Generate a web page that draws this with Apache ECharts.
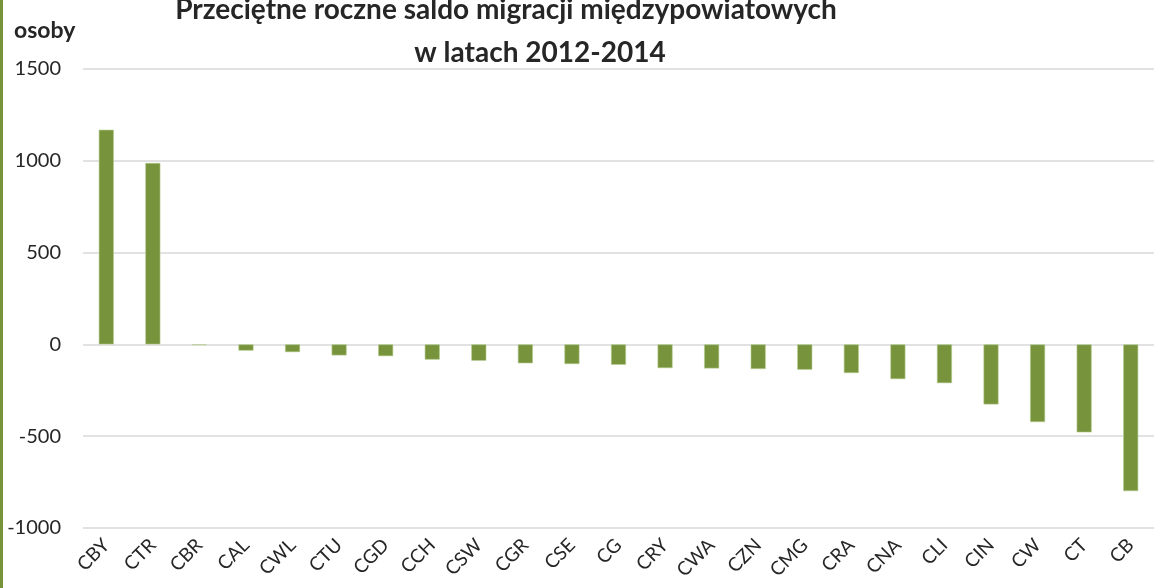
<!DOCTYPE html>
<html>
<head>
<meta charset="utf-8">
<script src="https://cdn.jsdelivr.net/npm/echarts@6/dist/echarts.min.js"></script>
<style>
  html, body { margin: 0; padding: 0; background: #fff; }
  #chart { width: 1154px; height: 588px; }
</style>
</head>
<body>
<div id="chart"></div>
<script>
// Powiaty (kody) i średnie roczne saldo migracji międzypowiatowych 2012-2014
const categories = ['CBY','CTR','CBR','CAL','CWL','CTU','CGD','CCH','CSW','CGR','CSE','CG',
                    'CRY','CWA','CZN','CMG','CRA','CNA','CLI','CIN','CW','CT','CB'];
const saldo = [1169, 988, -3, -34, -42, -60, -64, -83, -89, -103, -107, -111,
               -129, -131, -134, -138, -156, -189, -211, -327, -423, -479, -799];
const yTicks = { min: -1000, max: 1500, step: 500 };
const titleLines = ['Przeciętne roczne saldo migracji międzypowiatowych', 'w latach 2012-2014'];
const unitLabel = 'osoby';

const FONT = 'Lato, "Open Sans", sans-serif';
const GREEN = '#77933C';

const chart = echarts.init(document.getElementById('chart'), null, { renderer: 'canvas' });
chart.setOption({
  backgroundColor: '#ffffff',
  animation: false,
  title: [
    { text: titleLines[0], left: 501, top: -9, textAlign: 'center',
      textStyle: { fontFamily: FONT, fontWeight: 'bold', fontSize: 28, color: '#262626' } },
    { text: titleLines[1], left: 535, top: 34, textAlign: 'center',
      textStyle: { fontFamily: FONT, fontWeight: 'bold', fontSize: 28, color: '#262626' } },
    { text: unitLabel, left: 9, top: 14,
      textStyle: { fontFamily: FONT, fontWeight: 'bold', fontSize: 23, color: '#262626' } }
  ],
  graphic: [
    { type: 'rect', left: 0, top: 0, shape: { width: 3, height: 588 },
      style: { fill: GREEN } }
  ],
  grid: { left: 83, top: 69, width: 1081, bottom: 60, containLabel: false },
  xAxis: {
    type: 'category',
    data: categories,
    axisLine: { show: false },
    axisTick: { show: false },
    axisLabel: {
      rotate: 45, interval: 0, margin: 14,
      fontFamily: FONT, fontSize: 19, color: '#262626'
    }
  },
  yAxis: {
    type: 'value',
    min: yTicks.min, max: yTicks.max, interval: yTicks.step,
    axisLine: { show: false },
    axisTick: { show: false },
    axisLabel: {
      margin: 22, fontFamily: FONT, fontSize: 20, color: '#262626',
      formatter: (v) => String(v)
    },
    splitLine: { lineStyle: { color: '#d9d9d9', width: 1.5 } }
  },
  series: [{
    type: 'bar',
    data: saldo,
    barWidth: 15,
    itemStyle: { color: GREEN, borderColor: '#b5cc8e', borderWidth: 0.6 }
  }]
});
</script>
</body>
</html>
